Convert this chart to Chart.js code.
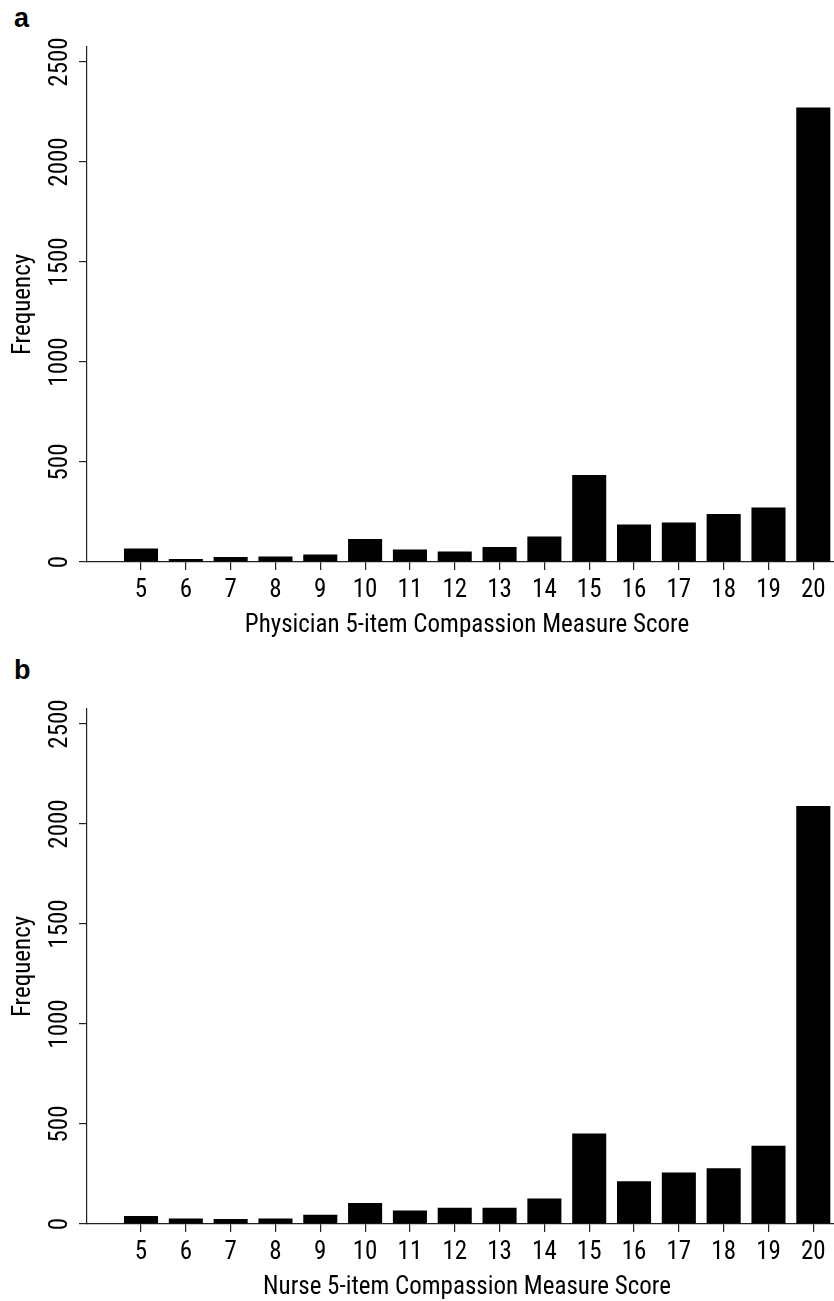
<!DOCTYPE html>
<html>
<head>
<meta charset="utf-8">
<script src="https://cdn.jsdelivr.net/npm/chart.js@4"></script>
<style>
  html, body { margin: 0; padding: 0; background: #fff; overflow: hidden; width: 834px; height: 1301px; }
  .panel { position: absolute; left: 0; width: 847px; }
  .lbl { position: absolute; font-family: 'Liberation Sans', Arial, sans-serif; font-weight: bold; font-size: 27px; line-height: 26px; color: #000; }
</style>
</head>
<body>
<div class="lbl" style="left:14px; top:5px;">a</div>
<div class="lbl" style="left:14px; top:657px;">b</div>
<div class="panel" style="top:0; height:650px;"><canvas id="ca"></canvas></div>
<div class="panel" style="top:650px; height:662px;"><canvas id="cb"></canvas></div>
<script>
const scores = [5, 6, 7, 8, 9, 10, 11, 12, 13, 14, 15, 16, 17, 18, 19, 20];
const physicianFreq = [68, 15, 25, 28, 37, 115, 62, 52, 75, 127, 435, 188, 197, 240, 273, 2272];
const nurseFreq = [40, 28, 25, 28, 46, 105, 68, 81, 81, 128, 453, 214, 257, 279, 391, 2090];
const yTicks = [0, 500, 1000, 1500, 2000, 2500];
const yTitle = 'Frequency';
const xTitleA = 'Physician 5-item Compassion Measure Score';
const xTitleB = 'Nurse 5-item Compassion Measure Score';

// ---- pick a narrow sans font that is actually installed ----
const mctx = document.createElement('canvas').getContext('2d');
function measure(font, text) { mctx.font = font; return mctx.measureText(text).width; }
function installed(fam) {
  return ['monospace', 'serif'].every(g => measure(`26px ${fam}, ${g}`, xTitleA) !== measure(`26px ${g}`, xTitleA));
}
const candidates = [
  { fam: "'Liberation Sans Narrow'", stretch: '' },
  { fam: "'Arial Narrow'", stretch: '' },
  { fam: "'Roboto Condensed'", stretch: '' },
  { fam: "'DejaVu Sans Condensed'", stretch: '' },
  { fam: "'Liberation Sans'", stretch: 'condensed' },
  { fam: "'Open Sans'", stretch: 'condensed' },
  { fam: "'Noto Sans'", stretch: 'condensed' },
  { fam: "'Roboto'", stretch: 'condensed' }
];
let pick = { fam: "'Liberation Sans'", stretch: '' };
for (const c of candidates) {
  if (!installed(c.fam)) continue;
  if (c.stretch) {
    const wn = measure(`26px ${c.fam}`, xTitleA);
    const wc = measure(`${c.stretch} 26px ${c.fam}`, xTitleA);
    if (wc < 0.92 * wn) { pick = c; break; }
  } else { pick = c; break; }
}
const FAM = pick.fam + ", 'Liberation Sans', sans-serif";
const STRETCH = pick.stretch || undefined;
const titleW26 = measure(`${pick.stretch} 26px ${FAM}`, xTitleA);
const FS = Math.min(27, Math.round(26 * 445 / titleW26 * 10) / 10);
const widest2500 = measure(`${pick.stretch} ${FS}px ${FAM}`, '2500');
const LH = FS * 1.2;

Chart.defaults.font.family = FAM;
Chart.defaults.font.size = FS;
Chart.defaults.color = '#000';

function fnt() { return STRETCH ? { size: FS, weight: STRETCH } : { size: FS }; }

function makeChart(id, values, xTitle, padTop, height) {
  const canvas = document.getElementById(id);
  canvas.width = 847; canvas.height = height;
  canvas.style.width = '847px'; canvas.style.height = height + 'px';
  return new Chart(canvas, {
    type: 'bar',
    data: {
      datasets: [{
        data: scores.map((s, i) => ({ x: s, y: values[i] })),
        backgroundColor: '#000',
        borderColor: '#000',
        borderWidth: 0,
        barPercentage: 0.76,
        categoryPercentage: 1.0
      }]
    },
    options: {
      responsive: false,
      animation: false,
      events: [],
      layout: { padding: { top: padTop, left: 0, right: 0, bottom: 0 } },
      plugins: { legend: { display: false }, tooltip: { enabled: false } },
      scales: {
        x: {
          type: 'linear',
          min: 3.795,
          max: 20.752,
          offset: false,
          afterBuildTicks: (axis) => { axis.ticks = scores.map(v => ({ value: v })); },
          afterFit: (axis) => { axis.height = 88; },
          grid: { offset: false, drawOnChartArea: false, drawTicks: true, tickLength: 8, color: '#222', lineWidth: 1.2 },
          border: { display: true, color: '#222', width: 1.2 },
          ticks: { autoSkip: false, maxRotation: 0, minRotation: 0, padding: 21 - LH / 2, font: fnt(), color: '#000',
                   callback: (v) => String(v) },
          title: { display: true, text: xTitle, font: fnt(), color: '#000', padding: { top: 0, bottom: 24 - LH / 2 } }
        },
        y: {
          type: 'linear',
          min: 0,
          max: 2575,
          afterBuildTicks: (axis) => { axis.ticks = yTicks.map(v => ({ value: v })); },
          afterFit: (axis) => { axis.width = 87; },
          grid: { drawOnChartArea: false, drawTicks: true, tickLength: 8, color: '#222', lineWidth: 1.2 },
          border: { display: true, color: '#222', width: 1.2 },
          ticks: { minRotation: 90, maxRotation: 90, crossAlign: 'center', padding: 87 - 8 - 61 - widest2500 / 2,
                   font: fnt(), color: '#000', callback: (v) => String(v) },
          title: { display: true, text: yTitle, font: fnt(), color: '#000', padding: { top: 24 - LH / 2, bottom: 0 } }
        }
      }
    }
  });
}

makeChart('ca', physicianFreq, xTitleA, 47, 650);
makeChart('cb', nurseFreq, xTitleB, 59, 662);
</script>
</body>
</html>
